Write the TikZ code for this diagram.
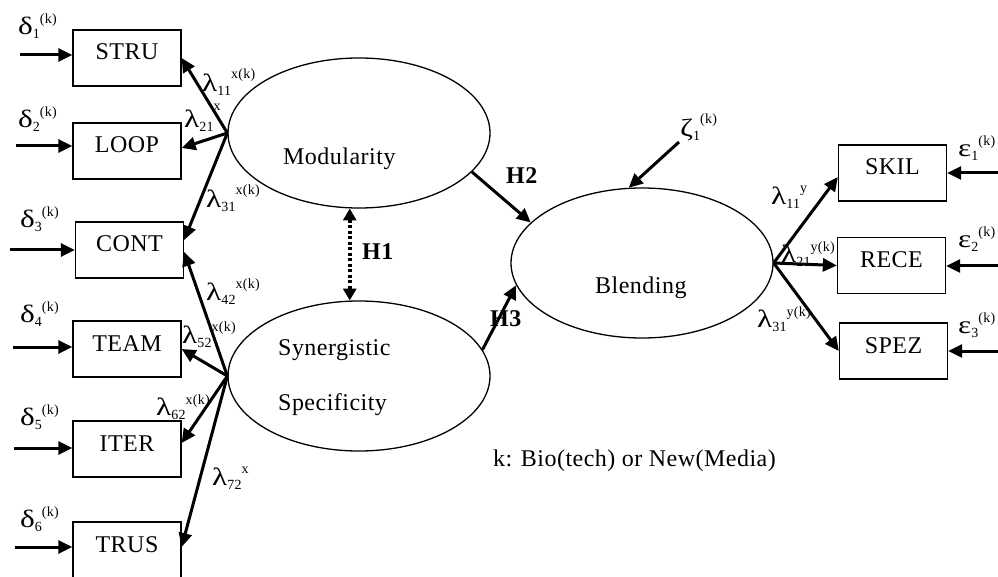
\documentclass[tikz,border=0pt]{standalone}
\usepackage{fontspec}
\setmainfont{Liberation Serif}[LetterSpace=2]
\usetikzlibrary{arrows.meta,calc,shapes.geometric}
\newcommand{\glab}[4][12pt]{{\fontsize{25}{25}\selectfont\scalebox{1.25}[1]{#2}}{\fontsize{14}{14}\selectfont\raisebox{-4pt}{#3}\raisebox{#1}{#4}}}
\begin{document}
\begin{tikzpicture}[x=1pt,y=-1pt,
  box/.style={draw, line width=1.3pt, minimum width=108pt, minimum height=56pt, inner sep=0pt,
    font=\fontsize{24}{24}\selectfont, text height=16pt, text depth=12pt},
  ell/.style={draw, ellipse, line width=1.3pt, minimum width=262pt, minimum height=150pt, inner sep=0pt},
  arr/.style={line width=3pt, -{Triangle[length=14pt,width=13pt]}},
  lab/.style={inner sep=0pt, anchor=base west},
  txt/.style={inner sep=0pt, anchor=base west, font=\fontsize{24}{24}\selectfont},
  hyp/.style={inner sep=0pt, anchor=base west, font=\fontsize{24}{24}\selectfont\bfseries}]
\useasboundingbox (0,0) rectangle (998,577);
\clip (0,0) rectangle (998,577);
\fill[white] (0,0) rectangle (998,577);
% boxes
\node[box] (stru) at (127,58) {STRU};
\node[box] (loop) at (127,151) {LOOP};
\node[box] (cont) at (129.5,250) {CONT};
\node[box] (team) at (127,349) {TEAM};
\node[box] (iter) at (127,449) {ITER};
\node[box] (trus) at (127,550) {TRUS};
\node[box] (skil) at (892.5,173) {SKIL};
\node[box] (rece) at (891.5,265.5) {RECE};
\node[box] (spez) at (893.5,351) {SPEZ};
% ellipses
\node[ell] (mod) at (359,133) {};
\node[ell] (syn) at (359,376) {};
\node[ell] (blend) at (642,263) {};
\node[txt] (modtxt) at (283,165) {Modularity};
\node[txt] (syntxt) at (278,355) {Synergistic};
\node[txt] (spetxt) at (278,410) {Specificity};
\node[txt] (bletxt) at (595,293) {Blending};
% error inputs left
\coordinate (d1) at (20,55);
\coordinate (d2) at (16,146);
\coordinate (d3) at (10,250);
\coordinate (d4) at (13,347);
\coordinate (d5) at (14,448);
\coordinate (d6) at (15,547);
\draw[arr] (d1) -- (d1 -| stru.west);
\draw[arr] (d2) -- (d2 -| loop.west);
\draw[arr] (d3) -- (d3 -| cont.west);
\draw[arr] (d4) -- (d4 -| team.west);
\draw[arr] (d5) -- (d5 -| iter.west);
\draw[arr] (d6) -- (d6 -| trus.west);
\node[lab] (dl1) at (18,35) {\glab[11pt]{δ}{1}{(k)}};
\node[lab] (dl2) at (18,128) {\glab[11pt]{δ}{2}{(k)}};
\node[lab] (dl3) at (20,228) {\glab[11pt]{δ}{3}{(k)}};
\node[lab] (dl4) at (20,322) {\glab[11pt]{δ}{4}{(k)}};
\node[lab] (dl5) at (20,425) {\glab[11pt]{δ}{5}{(k)}};
\node[lab] (dl6) at (20,527) {\glab[11pt]{δ}{6}{(k)}};
% error inputs right
\coordinate (e1) at (998,173);
\coordinate (e2) at (998,266);
\coordinate (e3) at (998,351);
\draw[arr] (e1) -- (e1 -| skil.east);
\draw[arr] (e2) -- (e2 -| rece.east);
\draw[arr] (e3) -- (e3 -| spez.east);
\node[lab] (el1) at (958,157) {\glab[11pt]{ε}{1}{(k)}};
\node[lab] (el2) at (958,248) {\glab[11pt]{ε}{2}{(k)}};
\node[lab] (el3) at (958,333) {\glab[11pt]{ε}{3}{(k)}};
% loadings left
\draw[arr] (mod.west) -- (stru.east);
\draw[arr] (mod.west) -- ($(loop.east)+(0,-3)$);
\draw[arr] (mod.west) -- ($(cont.east)+(0,-10)$);
\draw[arr] (syn.west) -- ($(cont.east)+(0,2)$);
\draw[arr] (syn.west) -- (team.east);
\draw[arr] (syn.west) -- ($(iter.east)+(0,-6)$);
\draw[arr] (syn.west) -- ($(trus.east)+(0,-3)$);
\node[lab] (l11) at (202,92) {\glab[13pt]{λ}{11}{x(k)}};
\node[lab] (l21) at (184,128) {\glab[17pt]{λ}{21}{x}};
\node[lab] (l31) at (206,208) {\glab[13pt]{λ}{31}{x(k)}};
\node[lab] (l42) at (206,300) {\glab[12pt]{λ}{42}{x(k)}};
\node[lab] (l52) at (182,343) {\glab[12pt]{λ}{52}{x(k)}};
\node[lab] (l62) at (156,415) {\glab[11pt]{λ}{62}{x(k)}};
\node[lab] (l72) at (212,485) {\glab[12pt]{λ}{72}{x}};
% loadings right
\draw[arr] (blend.east) -- ($(skil.west)+(0,4)$);
\draw[arr] (blend.east) -- (rece.west);
\draw[arr] (blend.east) -- (spez.west);
\node[lab] (ly11) at (771,205) {\glab[12pt]{λ}{11}{y}};
\node[lab] (ly21) at (781,263) {\glab[12pt]{λ}{21}{y(k)}};
\node[lab] (ly31) at (757,327) {\glab[11pt]{λ}{31}{y(k)}};
% structural paths
\draw[line width=4pt, dash pattern=on 3pt off 2.5pt, {Triangle[length=12pt,width=13pt]}-{Triangle[length=12pt,width=13pt]}] (mod.-97.5) -- (syn.97.5);
\draw[arr] (mod.-19.4) -- (blend.160);
\draw[arr] (syn.12) -- (blend.190);
\node[hyp] (h1) at (362,260) {H1};
\node[hyp] (h2) at (506,184) {H2};
\node[hyp] (h3) at (490,326) {H3};
\coordinate (z1) at (679,142);
\draw[arr] (z1) -- (blend.100);
\node[lab] (zl) at (680,137) {\glab[13pt]{ζ}{1}{(k)}};
\node[lab, font=\fontsize{24}{24}\selectfont] (note) at (493,466) {k: Bio(tech) or New(Media)};
\end{tikzpicture}
\end{document}
